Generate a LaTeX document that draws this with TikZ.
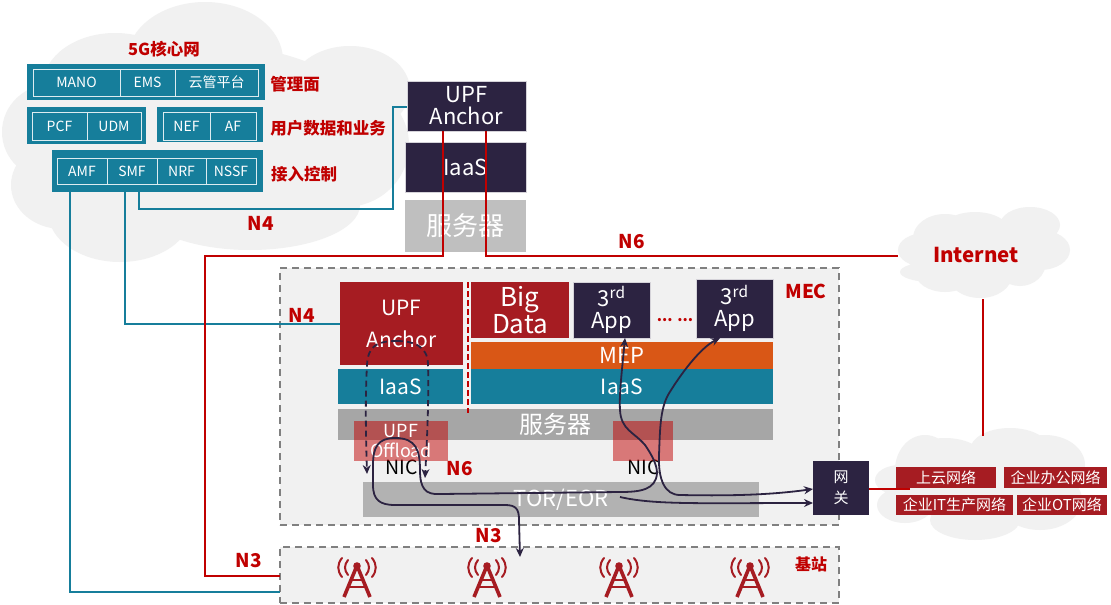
\documentclass[tikz,border=0pt]{standalone}
\usepackage{fontspec}
\setmainfont{Noto Sans CJK SC}
\usetikzlibrary{arrows.meta}
\definecolor{tealbar}{HTML}{167E9B}
\definecolor{darkbox}{HTML}{2C2341}
\definecolor{redbox}{HTML}{A61C22}
\definecolor{redtext}{HTML}{C00000}
\definecolor{orangebar}{HTML}{D95716}
\definecolor{cloudgray}{HTML}{F1F1F1}
\tikzset{
  block/.style={inner sep=0pt,outer sep=0pt,align=center,text=white},
  tealouter/.style={block,fill=tealbar},
  cell/.style={block,draw=white!85!tealbar,line width=.8pt,font=\fontsize{14}{15}\selectfont},
  darkblock/.style={block,fill=darkbox,draw=white!80!darkbox,line width=.4pt,font=\fontsize{22}{22}\selectfont},
  redblock/.style={block,fill=redbox,font=\fontsize{21}{24}\selectfont},
  tealblock/.style={block,fill=tealbar,font=\fontsize{21}{22}\selectfont},
  graybar/.style={block,fill=#1,font=\fontsize{24}{26}\selectfont},
  nicpink/.style={block,fill=redtext,fill opacity=.5,text opacity=1,font=\fontsize{18}{20}\selectfont},
  netbox/.style={block,fill=redbox,font=\fontsize{15}{16}\selectfont},
  redlabel/.style={inner sep=0pt,text=redtext,font=\bfseries\fontsize{19}{20}\selectfont},
  sidelabel/.style={inner sep=0pt,text=redtext,font=\bfseries\fontsize{16.5}{18}\selectfont},
  niclabel/.style={inner sep=0pt,font=\fontsize{19.5}{21}\selectfont},
  zone/.style={block,fill=cloudgray,draw=gray,line width=1.5pt,dash pattern=on 7pt off 5pt},
  tealline/.style={draw=tealbar,line width=1.6pt},
  redline/.style={draw=redtext,line width=1.6pt},
  tip/.style={Stealth[length=9pt,width=8pt]},
  flow/.style={draw=darkbox,line width=1.8pt,-{Stealth[length=9pt,width=8pt]}},
  bothflow/.style={draw=darkbox,line width=1.8pt,{Stealth[length=9pt,width=8pt]}-{Stealth[length=9pt,width=8pt]}},
  dashflow/.style={flow,dash pattern=on 6pt off 4pt},
}
% rectangle node given by its corners: name, x1, y1, x2, y2, style, text
\newcommand\rectnode[7]{%
  \node[#6,minimum width={(#4-#2)*1pt},minimum height={(#5-#3)*1pt}]
    (#1) at ({(#2+#4)/2},{(#3+#5)/2}) {#7};}
% radio mast with its signal arcs
\newcommand\mast[2]{%
  \begin{scope}[shift={(#1,0)},draw=redbox,line cap=round]
    \fill[redbox] (0,566) circle (3.8);
    \draw[line width=3.6pt,line cap=butt] (-13,597) -- (-1,568) (13,597) -- (1,568);
    \draw[line width=2.2pt,line cap=butt] (-6,580) -- (6,580) (-9,587) -- (9,587);
    \draw[line width=2pt] (-9,560) .. controls (-13,565) and (-13,570) .. (-9,575);
    \draw[line width=2pt] (9,560) .. controls (13,565) and (13,570) .. (9,575);
    \draw[line width=2pt] (-15,558) .. controls (-20,564) and (-20,571) .. (-15,577);
    \draw[line width=2pt] (15,558) .. controls (20,564) and (20,571) .. (15,577);
  \end{scope}
  \coordinate (#2) at (#1,566);}
\begin{document}
\begin{tikzpicture}[x=1pt,y=-1pt]
\useasboundingbox (0,0) rectangle (1111,605);
\fill[white] (0,0) rectangle (1111,605);

% clouds
\fill[cloudgray]
  (205,60) ellipse [x radius=78,y radius=58]
  (115,85) ellipse [x radius=72,y radius=52]
  (350,90) ellipse [x radius=60,y radius=44]
  (52,132) ellipse [x radius=50,y radius=48]
  (345,145) ellipse [x radius=64,y radius=62]
  (62,185) ellipse [x radius=51,y radius=44]
  (120,212) ellipse [x radius=72,y radius=50]
  (250,205) ellipse [x radius=110,y radius=45]
  (210,140) ellipse [x radius=170,y radius=95];
\fill[cloudgray]
  (925,250) ellipse [x radius=27,y radius=17]
  (932,272) ellipse [x radius=32,y radius=10]
  (945,238) ellipse [x radius=32,y radius=24]
  (975,232) ellipse [x radius=35,y radius=20]
  (1030,225) ellipse [x radius=30,y radius=18]
  (1040,250) ellipse [x radius=30,y radius=20]
  (1020,262) ellipse [x radius=26,y radius=24]
  (980,275) ellipse [x radius=32,y radius=23]
  (945,272) ellipse [x radius=30,y radius=20]
  (985,250) ellipse [x radius=60,y radius=30];
\fill[cloudgray]
  (925,470) ellipse [x radius=30,y radius=35]
  (900,480) ellipse [x radius=25,y radius=15]
  (905,505) ellipse [x radius=28,y radius=18]
  (945,460) ellipse [x radius=40,y radius=22]
  (1010,450) ellipse [x radius=40,y radius=22]
  (1045,465) ellipse [x radius=40,y radius=30]
  (1040,500) ellipse [x radius=42,y radius=30]
  (975,520) ellipse [x radius=45,y radius=20]
  (980,490) ellipse [x radius=70,y radius=35];

% 5G core network
\node[sidelabel] (corelabel) at (164,49) {5G核心网};
\rectnode{mgmt}{27}{64}{265}{100}{tealouter}{}
\rectnode{mano}{33}{69}{120}{96}{cell}{MANO}
\rectnode{ems}{120}{69}{175}{96}{cell}{EMS}
\rectnode{cloudmgr}{175}{69}{258}{96}{cell}{云管平台}
\rectnode{userA}{27}{107}{146}{144}{tealouter}{}
\rectnode{pcf}{32}{112}{87}{140}{cell}{PCF}
\rectnode{udm}{87}{112}{141}{140}{cell}{UDM}
\rectnode{userB}{157}{107}{263}{142}{tealouter}{}
\rectnode{nef}{163}{112}{210}{140}{cell}{NEF}
\rectnode{af}{210}{112}{256}{140}{cell}{AF}
\rectnode{access}{52}{150}{263}{192}{tealouter}{}
\rectnode{amf}{57}{158}{107}{184}{cell}{AMF}
\rectnode{smf}{107}{158}{157}{184}{cell}{SMF}
\rectnode{nrf}{157}{158}{206}{184}{cell}{NRF}
\rectnode{nssf}{206}{158}{256}{184}{cell}{NSSF}
\node[sidelabel] (mgmtlabel) at (295,84) {管理面};
\node[sidelabel] (userlabel) at (328,128) {用户数据和业务};
\node[sidelabel] (accesslabel) at (304,174) {接入控制};

% central UPF stack
\rectnode{upftop}{407}{81}{526}{131}{darkblock}{UPF\\Anchor}
\rectnode{iaastop}{405}{142}{526}{192}{darkblock}{IaaS}
\rectnode{srvtop}{405}{200}{526}{252}{graybar=black!25,font=\fontsize{26}{28}\selectfont}{服务器}

% MEC site and base stations
\rectnode{mec}{280}{268}{839}{525}{zone}{}
\rectnode{ran}{280}{547}{839}{603}{zone}{}
\node[sidelabel,font=\bfseries\fontsize{19}{20}\selectfont] (meclabel) at (806,291) {MEC};
\node[sidelabel,font=\bfseries\fontsize{16}{17}\selectfont] (ranlabel) at (811,564) {基站};
\mast{357}{gnbA}
\mast{487}{gnbB}
\mast{619}{gnbC}
\mast{750}{gnbD}

% MEC contents
\rectnode{upfmec}{340}{282}{463}{365}{redblock}{UPF\\[8pt]Anchor}
\rectnode{iaasL}{338}{369}{463}{404}{tealblock}{IaaS}
\rectnode{bigdata}{471}{282}{569}{338}{redblock,font=\fontsize{26}{24}\selectfont}{Big\\Data}
\rectnode{appA}{573}{282}{650}{338}{darkblock}{3\textsuperscript{rd}\\App}
\rectnode{appB}{696}{279}{773}{338}{darkblock}{3\textsuperscript{rd}\\App}
\node[inner sep=0pt,text=redtext,font=\bfseries\fontsize{15}{16}\selectfont] (dots) at (675,320) {... ...};
\rectnode{mep}{471}{342}{773}{369}{block,fill=orangebar,font=\fontsize{22}{24}\selectfont}{MEP}
\rectnode{iaasR}{471}{369}{773}{404}{tealblock}{IaaS}
\rectnode{server}{338}{409}{773}{440}{graybar=black!35}{服务器}
\rectnode{tor}{363}{482}{759}{517}{graybar=black!30,font=\fontsize{22}{24}\selectfont}{TOR/EOR}
\node[niclabel] (nicA) at (402,467) {NIC};
\node[niclabel] (nicB) at (644,467) {NIC};
\rectnode{offload}{354}{421}{448}{461}{nicpink}{UPF\\Offload}
\rectnode{nicpinkB}{613}{421}{673}{461}{nicpink}{}
\rectnode{gateway}{813}{461}{869}{515}{block,fill=darkbox,font=\fontsize{15}{21}\selectfont}{网\\关}
\coordinate (splitT) at (468,282);
\coordinate (splitB) at (468,413);
\draw[redline,dash pattern=on 6pt off 3pt] (splitT) -- (splitB);

% enterprise networks
\rectnode{cloudnet}{896}{467}{996}{488}{netbox}{上云网络}
\rectnode{office}{1004}{467}{1107}{488}{netbox}{企业办公网络}
\rectnode{itnet}{896}{495}{1013}{515}{netbox}{企业IT生产网络}
\rectnode{otnet}{1017}{495}{1107}{515}{netbox}{企业OT网络}
\node[inner sep=0pt,text=redtext,font=\bfseries\fontsize{20.5}{22}\selectfont] (internet) at (976,255) {Internet};

% N4 control links
\draw[tealline] (139,192) |- (393,209) |- (upftop.west |- 0,107);
\draw[tealline] (125,192) |- (upfmec.west |- 0,324);
\draw[tealline] (70,192) |- (ran.west |- 0,592);

% N3 and N6 user-plane links
\draw[redline] (443,131) -- (443,256) -| (205,576) -- (ran.west |- 0,576);
\draw[redline] (486,131) |- (898,256);
\draw[redline] (gateway.east |- 0,489) -- (910,489);
\draw[redline] (983,299) -- (983,436);

\node[redlabel] (n4a) at (261,223) {N4};
\node[redlabel] (n6a) at (632,242) {N6};
\node[redlabel] (n4b) at (302,315) {N4};
\node[redlabel] (n6b) at (460,469) {N6};
\node[redlabel] (n3a) at (489,536) {N3};
\node[redlabel] (n3b) at (249,561) {N3};

% traffic paths
\coordinate (anchorTop) at (397,341);
\coordinate (nicAleft) at (367,474);
\coordinate (nicAright) at (425,478);
\draw[dashflow] (anchorTop) .. controls (378,341) and (368,345) .. (367,365)
  .. controls (365,400) and (366,440) .. (nicAleft);
\draw[dashflow] (anchorTop) .. controls (412,341) and (428,345) .. (428,365)
  .. controls (429,400) and (427,440) .. (nicAright);
\coordinate (ranEntry) at (520,557);
\coordinate (appAin) at (625,338);
\draw[bothflow] (appAin)
  .. controls (622,370) and (619,395) .. (620,410)
  .. controls (621,430) and (634,432) .. (645,445)
  .. controls (652,455) and (657,465) .. (657,473)
  .. controls (656,490) and (640,492) .. (620,492)
  -- (440,494)
  .. controls (425,495) and (420,488) .. (420,470)
  .. controls (420,450) and (416,438) .. (395,438)
  .. controls (378,438) and (373,447) .. (373,465)
  -- (373,485)
  .. controls (373,500) and (380,505) .. (395,505)
  -- (505,505)
  .. controls (516,505) and (519,509) .. (519,520)
  -- (ranEntry);
\coordinate (torStart) at (620,497);
\coordinate (gwLower) at (813,503);
\coordinate (gwUpper) at (813,489);
\coordinate (appBin) at (720,338);
\draw[flow] (torStart) .. controls (655,505) and (700,503) .. (gwLower);
\draw[bothflow] (appBin)
  .. controls (700,348) and (680,375) .. (668,395)
  .. controls (660,410) and (660,430) .. (659,455)
  .. controls (658,480) and (665,495) .. (680,495)
  .. controls (730,496) and (770,495) .. (gwUpper);
\end{tikzpicture}
\end{document}
